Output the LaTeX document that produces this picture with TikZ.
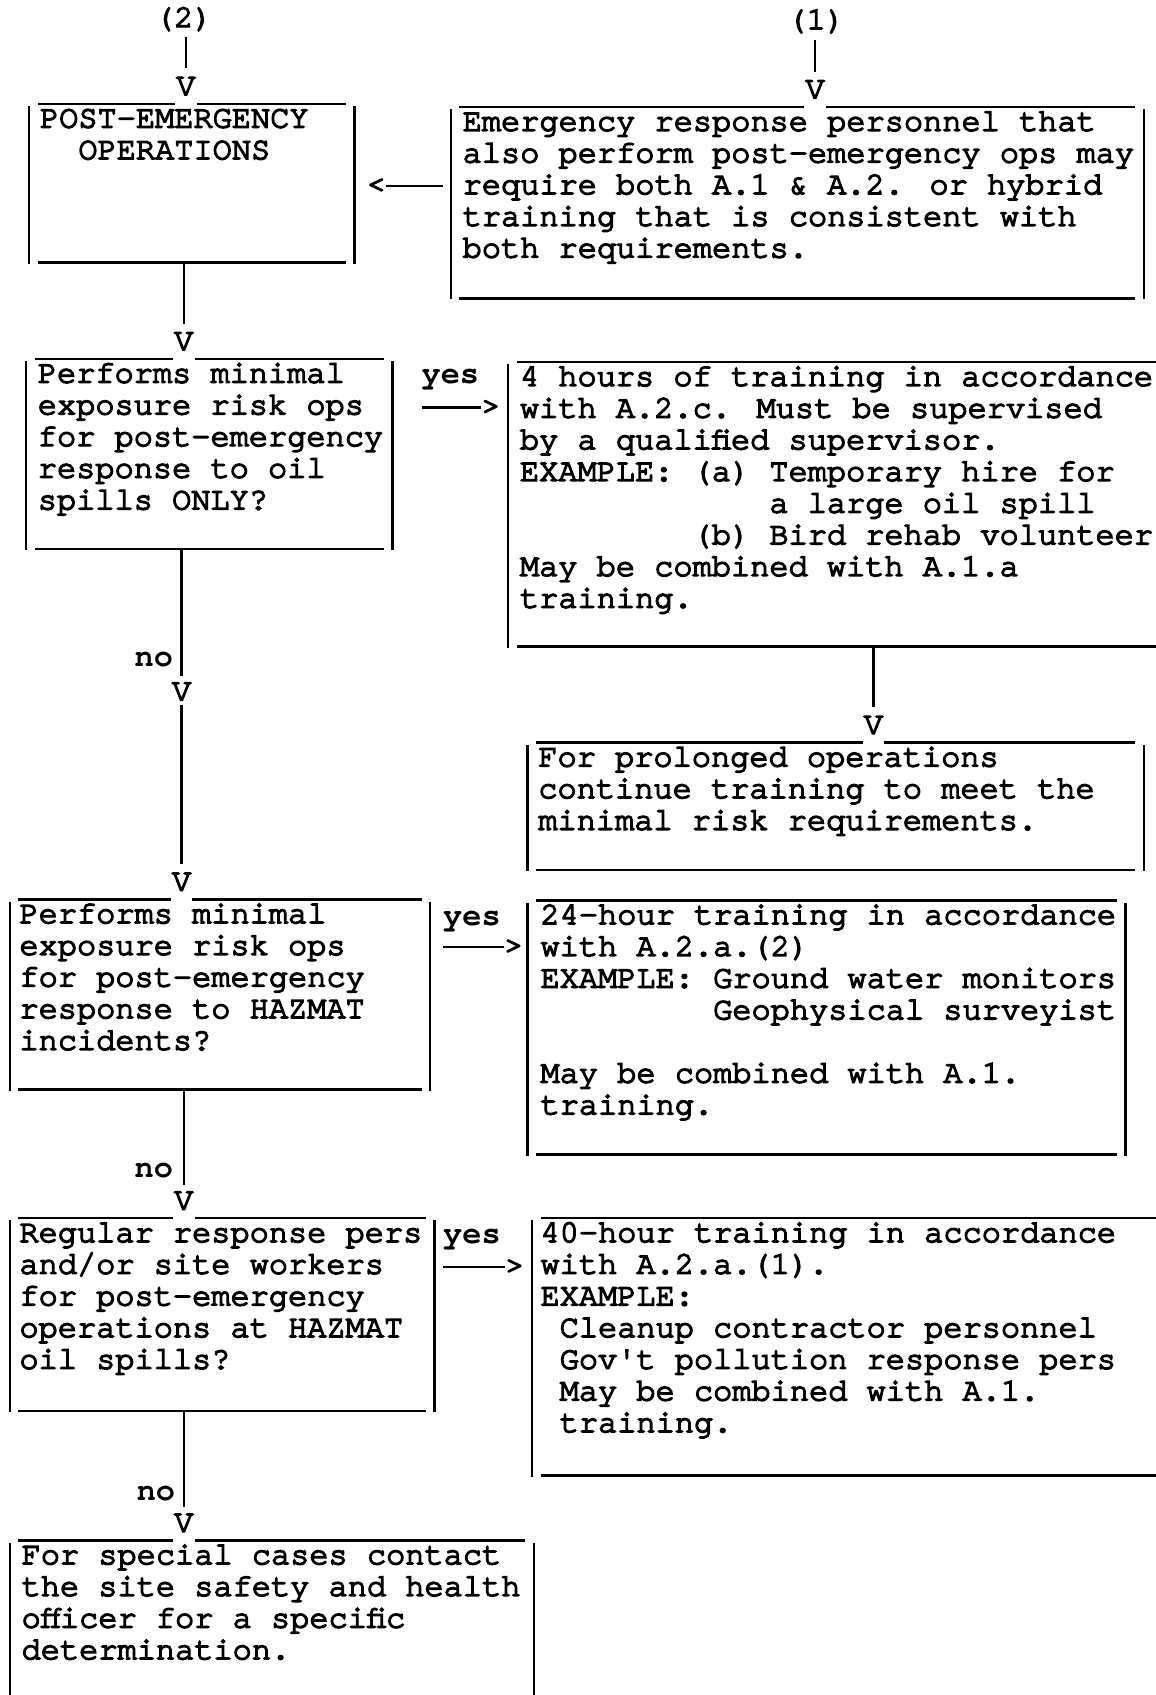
\documentclass[tikz,border=0pt]{standalone}
\usepackage{fontspec}
\usetikzlibrary{fit,calc}
\newfontfamily\curr[FakeBold=4.5]{texgyrecursor-regular.otf}
\newfontfamily\curb{texgyrecursor-bold.otf}
\newcommand\tx{\fontsize{14.79pt}{14.65pt}\curr}
\newcommand\txb{\fontsize{14.79pt}{14.65pt}\curb}
\newcommand\ind[1]{\hspace*{\dimexpr #1em*6/10\relax}}
\newcommand\fs{\rule{0pt}{11pt}}
\newcommand\gapbox[2]{%
  \draw[ln] ($(#1.north west)+(0,2)$) -- ($(#1.south west)+(0,1)$);
  \draw[ln] ($(#1.north east)+(0,2)$) -- ($(#1.south east)+(0,1)$);
  \draw[ln] ($(#1.north west)+(8,0)$) -- ($(#1.north west -| #2)+(-10,0)$);
  \draw[ln] ($(#1.north west -| #2)+(10,0)$) -- ($(#1.north east)+(-8,0)$);
  \draw[ln] ($(#1.south west)+(8,0)$) -- ($(#1.south east)+(-8,0)$);}
\begin{document}
\begin{tikzpicture}[x=0.5pt,y=-0.5pt,
  ln/.style={line width=1.1pt},
  txt/.style={inner sep=0pt, outer sep=0pt, anchor=north west, align=left, font=\tx},
  lab/.style={inner sep=0pt, outer sep=0pt, font=\tx},
  blab/.style={inner sep=0pt, outer sep=0pt, font=\txb},
  vhead/.style={inner sep=0pt, outer sep=0pt, anchor=south, font=\tx},
  region/.style={inner sep=0pt, outer sep=0pt, draw=none}]
\useasboundingbox (0,0) rectangle (1069,1568);
\fill[white] (0,0) rectangle (1069,1568);

% entry labels
\node[lab, anchor=base] (l2) at (170,25) {(2)};
\node[lab, anchor=base] (l1) at (755,27) {(1)};

% arrow heads
\node[vhead] (vA) at (172,88) {V};
\node[vhead] (vB) at (754,91) {V};
\node[vhead] (vC) at (170,324) {V};
\node[vhead] (vM) at (168,648) {V};
\node[vhead] (vF) at (168,824) {V};
\node[vhead] (vE) at (808,679) {V};
\node[vhead] (vH) at (170,1119) {V};
\node[vhead] (vJ) at (170,1417) {V};

% box regions
\node[region, fit={(27,96) (328,243)}] (A) {};
\node[region, fit={(417,99) (1058,276)}] (B) {};
\node[region, fit={(24,332) (363,508)}] (C) {};
\node[region, fit={(470,335) (1069,598)}] (D) {};
\node[region, fit={(488,687) (1058,805)}] (E) {};
\node[region, fit={(9,832) (398,1008)}] (F) {};
\node[region, fit={(488,833) (1041,1068)}] (G) {};
\node[region, fit={(9,1127) (402,1305)}] (H) {};
\node[region, fit={(492,1127) (1069,1365)}] (I) {};
\node[region, fit={(9,1425) (494,1568)}] (J) {};

% texts
\node[txt] (At) at (37,96) {\fs POST-EMERGENCY\\\ind{2}OPERATIONS};
\node[txt] (Bt) at (428,99) {\fs Emergency response personnel that\\also perform post-emergency ops may\\require both A.1 \& A.2. or hybrid\\training that is consistent with\\both requirements.};
\node[txt] (Ct) at (35,332) {\fs Performs minimal\\exposure risk ops\\for post-emergency\\response to oil\\spills ONLY?};
\node[txt] (Dt) at (481,335) {\fs 4 hours of training in accordance\\with A.2.c. Must be supervised\\by a qualified supervisor.\\EXAMPLE: (a) Temporary hire for\\\ind{13}a large oil spill\\\ind{9}(b) Bird rehab volunteer\\May be combined with A.1.a\\training.};
\node[txt] (Et) at (498,687) {\fs For prolonged operations\\continue training to meet the\\minimal risk requirements.};
\node[txt] (Ft) at (18,832) {\fs Performs minimal\\exposure risk ops\\for post-emergency\\response to HAZMAT\\incidents?};
\node[txt] (Gt) at (500,833) {\fs 24-hour training in accordance\\with A.2.a.(2)\\EXAMPLE: Ground water monitors\\\ind{9}Geophysical surveyist\\\mbox{}\\May be combined with A.1.\\training.};
\node[txt] (Ht) at (18,1127) {\fs Regular response pers\\and/or site workers\\for post-emergency\\operations at HAZMAT\\oil spills?};
\node[txt] (It) at (500,1127) {\fs 40-hour training in accordance\\with A.2.a.(1).\\EXAMPLE:\\\ind{1}Cleanup contractor personnel\\\ind{1}Gov't pollution response pers\\\ind{1}May be combined with A.1.\\\ind{1}training.};
\node[txt] (Jt) at (20,1425) {\fs For special cases contact\\the site safety and health\\officer for a specific\\determination.};

% box outlines
\gapbox{A}{vA}
\gapbox{B}{vB}
\gapbox{C}{vC}
\gapbox{E}{vE}
\gapbox{F}{vF}
\gapbox{H}{vH}
% D: open to the right
\draw[ln] ($(D.north west)+(0,2)$) -- ($(D.south west)+(0,1)$);
\draw[ln] ($(D.north west)+(8,0)$) -- (D.north east);
\draw[ln] ($(D.south west)+(8,0)$) -- (D.south east);
% G: closed
\draw[ln] ($(G.north west)+(0,2)$) -- ($(G.south west)+(0,1)$);
\draw[ln] ($(G.north east)+(0,2)$) -- ($(G.south east)+(0,1)$);
\draw[ln] ($(G.north west)+(8,0)$) -- ($(G.north east)+(-8,0)$);
\draw[ln] ($(G.south west)+(8,0)$) -- ($(G.south east)+(-8,0)$);
% I: open to the right
\draw[ln] ($(I.north west)+(0,2)$) -- ($(I.south west)+(0,1)$);
\draw[ln] ($(I.north west)+(8,0)$) -- (I.north east);
\draw[ln] ($(I.south west)+(8,0)$) -- (I.south east);
% J: open at the bottom
\draw[ln] ($(J.north west)+(0,2)$) -- (J.south west);
\draw[ln] ($(J.north east)+(0,2)$) -- (J.south east);
\draw[ln] ($(J.north west)+(8,0)$) -- ($(J.north west -| vJ)+(-10,0)$);
\draw[ln] ($(J.north west -| vJ)+(10,0)$) -- ($(J.north east)+(-8,0)$);

% vertical connectors
\draw[ln, shorten <=3pt, shorten >=4pt] (l2.south -| vA.north) -- (vA.north);
\draw[ln, shorten <=3pt, shorten >=4pt] (l1.south -| vB.north) -- (vB.north);
\draw[ln, shorten >=4pt] (A.south -| vC.north) -- (vC.north);
\draw[ln, shorten >=3pt] (C.south -| vM.north) -- (vM.north);
\draw[ln, shorten <=2pt, shorten >=4pt] (vM.south) -- (vF.north);
\draw[ln, shorten >=3pt] (F.south -| vH.north) -- (vH.north);
\draw[ln, shorten >=3pt] (H.south -| vJ.north) -- (vJ.north);
\draw[ln, shorten >=4pt] (D.south -| vE.north) -- (vE.north);

% no labels
\node[blab, anchor=base east] (n1) at (160,617) {no};
\node[blab, anchor=base east] (n2) at (160,1089) {no};
\node[blab, anchor=base east] (n3) at (162,1388) {no};

% B -> A
\node[lab] (lt) at (348,172) {<};
\draw[ln] (lt.east) -- ($(lt.east -| B.west)+(-7,0)$);

% yes arrows
\node[blab, anchor=base west] (y1) at (390,355) {yes};
\node[lab] (g1) at (454,377) {>};
\coordinate (s1) at (390,377);
\draw[ln] (s1) -- (g1.west);
\node[blab, anchor=base west] (y2) at (410,856) {yes};
\node[lab] (g2) at (475,876) {>};
\coordinate (s2) at (410,876);
\draw[ln] (s2) -- (g2.west);
\node[blab, anchor=base west] (y3) at (410,1150) {yes};
\node[lab] (g3) at (476,1172) {>};
\coordinate (s3) at (410,1172);
\draw[ln] (s3) -- (g3.west);
\end{tikzpicture}
\end{document}
